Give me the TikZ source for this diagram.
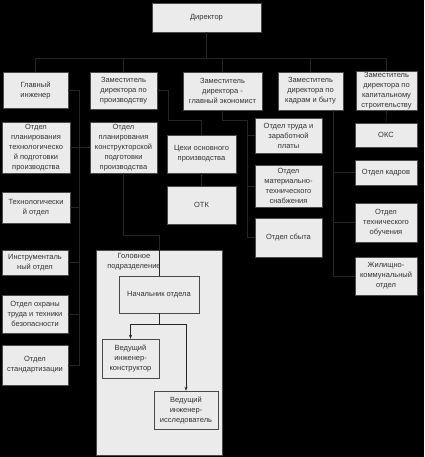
\documentclass[tikz,border=0pt]{standalone}
\usepackage{fontspec}
\setmainfont{Liberation Sans}
\usetikzlibrary{arrows.meta}
\definecolor{boxfill}{HTML}{EBEBEB}
\definecolor{boxline}{HTML}{4A4A4A}
\definecolor{boxtext}{HTML}{333333}
\definecolor{linkcol}{HTML}{262626}
\tikzset{ % Common looks, so we don't repeat ourselves
	box/.style 2 args={
		draw=boxline, fill=boxfill, text=boxtext, % Grey box with dark frame
		minimum width=#1pt, minimum height=#2pt, % Box size
		inner xsep=1pt, inner ysep=1pt, align=center,
		font=\fontsize{7.5}{10}\selectfont
	},
	link/.style={draw=linkcol, line width=0.8pt}, % Connector lines
	arr/.style={link, -{Stealth[length=4pt,width=3pt]}}
}
\begin{document}
\begin{tikzpicture}[x=1pt,y=-1pt]
			% Background
			\useasboundingbox (0,0) rectangle (424,457);
			\fill[black] (0,0) rectangle (424,457);
			% Head unit frame
			\node[draw=boxline, fill=boxfill, minimum width=126pt, minimum height=205pt, inner sep=0pt] (golov) at (159,352.5) {};
			\node[text=boxtext, align=center, font=\fontsize{7.5}{10}\selectfont] (golovlbl) at (134,262) {Головное\\подразделение};
			% Top
			\node[box={109}{29}] (dir) at (206.5,17.5) {Директор};
			% Deputies
			\node[box={65}{36}] (ge) at (35.5,90) {Главный\\инженер};
			\node[box={67}{37}] (zpr) at (123.5,90.5) {Заместитель\\директора по\\производству};
			\node[box={79}{38}] (zek) at (222.5,91) {Заместитель\\директора -\\главный экономист};
			\node[box={65}{38}] (zkd) at (310.5,91) {Заместитель\\директора по\\кадрам и быту};
			\node[box={61}{38}] (zks) at (386.5,91) {Заместитель\\директора по\\капитальному\\строительству};
			% Chief engineer column
			\node[box={68}{51}] (optp) at (36,147.5) {Отдел\\планирования\\технологическо\\й подготовки\\производства};
			\node[box={68}{31}] (tex) at (36,207.5) {Технологически\\й отдел};
			\node[box={66}{25}] (instr) at (35,262.5) {Инструменталь\\ный отдел};
			\node[box={66}{38}] (oxr) at (35,314) {Отдел охраны\\труда и техники\\безопасности};
			\node[box={66}{40}] (std) at (35,365) {Отдел\\стандартизации};
			\node[box={67}{51}] (opkp) at (123.5,147.5) {Отдел\\планирования\\конструкторской\\подготовки\\производства};
			% Production
			\node[box={69}{38}] (cex) at (201.5,154) {Цехи основного\\производства};
			\node[box={69}{38}] (otk) at (201.5,205) {ОТК};
			% Economist
			\node[box={67}{35}] (otz) at (288.5,135.5) {Отдел труда и\\заработной\\платы};
			\node[box={67}{42}] (omts) at (288.5,186) {Отдел\\материально-\\технического\\снабжения};
			\node[box={67}{39}] (osb) at (288.5,237.5) {Отдел сбыта};
			% Right column
			\node[box={62}{24}] (oks) at (386,135) {ОКС};
			\node[box={62}{25}] (okd) at (386,172.5) {Отдел кадров};
			\node[box={62}{39}] (oto) at (386,222.5) {Отдел\\технического\\обучения};
			\node[box={62}{38}] (gko) at (386,276) {Жилищно-\\коммунальный\\отдел};
			% Inside head unit
			\node[box={80}{37}] (nach) at (159,294.5) {Начальник отдела};
			\node[box={57}{39}] (vik) at (130.5,358.5) {Ведущий\\инженер-\\конструктор};
			\node[box={64}{38}] (vii) at (186,410) {Ведущий\\инженер-\\исследователь};
			% Bus under the director
			\draw[link] (dir.south) -- ++(0,26) coordinate (bus);
			\foreach \n in {ge,zpr,zek,zkd,zks}
				\draw[link] (bus) -| (\n.north);
			% Chief engineer
			\draw[link] (ge.east) -- ++(11,0) coordinate (gev);
			\foreach \n in {optp,tex,instr,oxr,std}
				\draw[link] (gev) |- (\n.east);
			\draw[link] (optp.east) -- (opkp.west);
			% Production deputy
			\draw[link] (zpr.east) -| ++(11,29.5) -| (cex.north);
			\draw[link] (cex.south) -- (otk.north);
			% Economist
			\coordinate (zekv) at (247,120);
			\draw[link] (zek.south) |- (zekv);
			\foreach \n in {otz,omts,osb}
				\draw[link] (zekv) |- (\n.west);
			% Staff deputy
			\coordinate (zkdv) at (333,110);
			\foreach \n in {okd,oto,gko}
				\draw[link] (zkdv) |- (\n.west);
			% Construction deputy
			\draw[link] (zks.south) -- (oks.north);
			% Head unit
			\draw[link] (opkp.south) -- ++(0,62) -| (nach.north);
			\draw[arr] (nach.south) -- ++(0,11) -| (vik.north);
			\draw[arr] (nach.south) -- ++(0,11) -| (vii.north);
		\end{tikzpicture}
\end{document}
